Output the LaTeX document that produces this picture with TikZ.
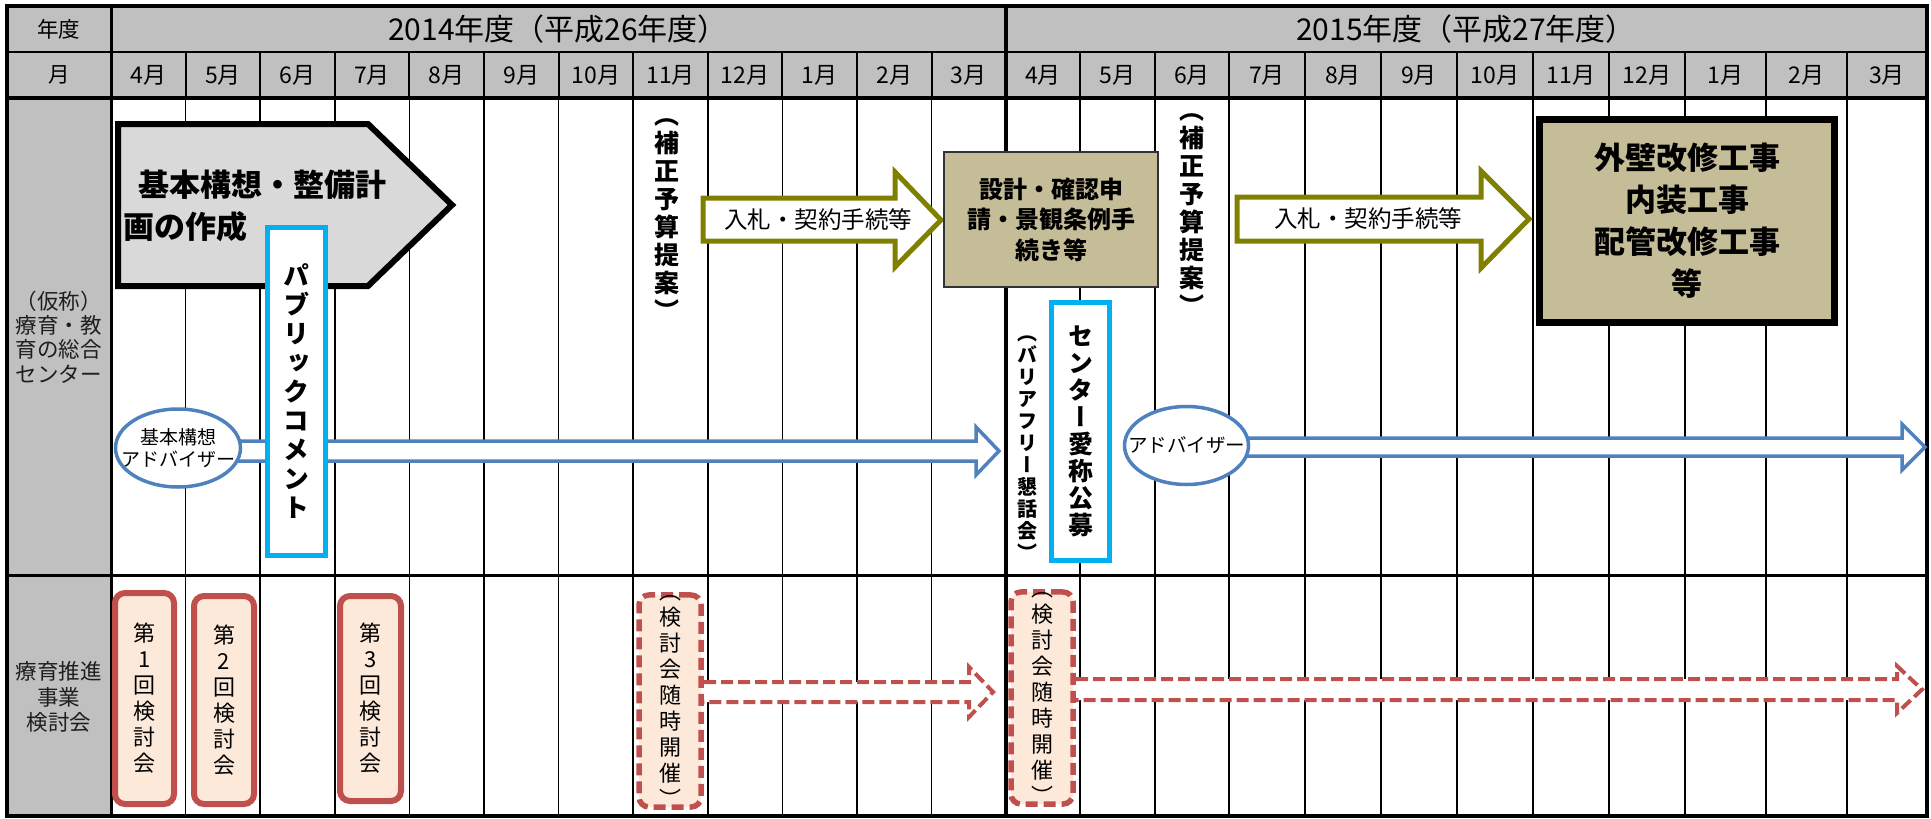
\documentclass[tikz,border=0pt]{standalone}
\usepackage{fontspec}
\setmainfont{Noto Sans CJK JP}
\usetikzlibrary{shapes.geometric}
\definecolor{hdrgray}{HTML}{C0C0C0}
\definecolor{pentgray}{HTML}{D9D9D9}
\definecolor{ablue}{HTML}{4F81BD}
\definecolor{cyanb}{HTML}{00B0F0}
\definecolor{olivec}{HTML}{808000}
\definecolor{redb}{HTML}{C0504D}
\definecolor{peach}{HTML}{FDE9D9}
\definecolor{khaki}{HTML}{C4BD97}
\definecolor{darkline}{HTML}{333333}
\definecolor{lblgray}{HTML}{1E1E1E}
\newcommand{\fs}[2]{\fontsize{#1}{#2}\selectfont}
\newcommand{\vertf}{\addfontfeature{RawFeature=+vert}}
\begin{document}
\begin{tikzpicture}[x=1pt,y=-1pt,
  every node/.style={inner sep=0pt},
  monthlbl/.style={font=\fs{23}{26}},
  yearlbl/.style={font=\fs{30}{32}},
  sidelbl/.style={font=\fs{21.5}{24.3}, align=center, text=lblgray},
  vbold/.style={font=\fs{25}{28}\bfseries\vertf, align=center},
  cyanbox/.style={draw=cyanb, line width=5, fill=white, align=center},
  meetbox/.style={draw=redb, line width=6, fill=peach, rounded corners=10, align=center, font=\fs{22}{26}\vertf},
  dashbox/.style={draw=redb, line width=5.5, dash pattern=on 12pt off 6pt, fill=peach, rounded corners=10, align=center, font=\fs{22}{26}\vertf},
  bluearrow/.style={draw=ablue, line width=3.5, fill=white, line join=miter},
  redarrow/.style={draw=redb, line width=4, dash pattern=on 12pt off 5pt, fill=white},
  olivearrow/.style={draw=olivec, line width=5, fill=white, line join=miter},
  advell/.style={ellipse, draw=ablue, line width=3.5, fill=white},
  khakibox/.style={fill=khaki, align=center}
]
\useasboundingbox (0,0) rectangle (1931,819);
% backgrounds
\fill[hdrgray] (7,6) rectangle (1927,98);
\fill[hdrgray] (7,98) rectangle (111,816);
% month grid lines
\foreach \x in {185.6,260.2,334.8,409.4,484,558.6,633.2,707.8,782.4,857,931.6,1080,1155,1229,1305,1381,1457,1533,1609,1685,1766,1847}{
  \draw[line width=2] (\x,52) -- (\x,98);
  \draw[line width=1.5] (\x,98) -- (\x,816);
}
\draw[line width=2.5] (7,52) -- (1927,52);
\draw[line width=4] (7,98) -- (1927,98);
\draw[line width=3] (7,575) -- (1927,575);
\draw[line width=3] (111,6) -- (111,816);
\draw[line width=4] (1006,6) -- (1006,816);
\draw[line width=4] (7,6) rectangle (1927,816);
% header texts
\node[font=\fs{21.5}{24}] (hyear) at (59,29) {年度};
\node[font=\fs{21.5}{24}] (hmonth) at (59,75) {月};
\node[yearlbl] (y14) at (558,29) {2014年度（平成26年度）};
\node[yearlbl] (y15) at (1466,29) {2015年度（平成27年度）};
\foreach \x/\m [count=\i] in {148.3/4,222.9/5,297.5/6,372.1/7,446.7/8,521.3/9,595.9/10,670.5/11,745.1/12,819.7/1,894.3/2,968.8/3}
  \node[monthlbl] (ma\i) at (\x,75) {\m 月};
\foreach \x/\m [count=\i] in {1043/4,1117.5/5,1192/6,1267/7,1343/8,1419/9,1495/10,1571/11,1647/12,1725.5/1,1806.5/2,1887/3}
  \node[monthlbl] (mb\i) at (\x,75) {\m 月};
% row labels
\node[sidelbl] (row1) at (59,337) {（仮称）\\療育・教\\育の総合\\センター};
\node[sidelbl, font=\fs{21.5}{25.5}] (row2) at (59,697) {療育推進\\事業\\検討会};
% basic plan pentagon
\draw[line width=6, fill=pentgray, line join=miter] (118,124) -- (368,124) -- (452,205) -- (368,286) -- (118,286) -- cycle;
\node[font=\fs{31}{42}\bfseries, align=left, anchor=west] (plan) at (123,206) {\hspace*{15pt}基本構想・整備計\\画の作成};
% blue arrow 1
\draw[bluearrow] (178,441) -- (976,441) -- (976,427) -- (999,451) -- (976,475) -- (976,461) -- (178,461) -- cycle;
\node[advell, minimum width=125, minimum height=78] (adv1) at (178,448) {};
\node[font=\fs{19}{22}, align=center] (adv1t) at (adv1.center) {基本構想\\アドバイザー};
% public comment
\node[cyanbox, minimum width=58, minimum height=328, font=\fs{26}{29}\bfseries\vertf] (pub) at (296.5,391.5) {パ\\ブ\\リ\\ッ\\ク\\コ\\メ\\ン\\ト};
% hosei 1
\node[vbold] (hosei1) at (667,220) {（\\補\\正\\予\\算\\提\\案\\）};
% olive arrow 1
\draw[olivearrow] (703,198) -- (895,198) -- (895,172) -- (941,220) -- (895,267) -- (895,241) -- (703,241) -- cycle;
\node[font=\fs{23.5}{26}] (bid1) at (818,220) {入札・契約手続等};
% design box
\node[khakibox, draw=darkline, line width=2.5, minimum width=214, minimum height=135, font=\fs{24}{30.5}\bfseries] (design) at (1051,219.5) {設計・確認申\\請・景観条例手\\続き等};
% barrier free
\node[font=\fs{20}{22}\bfseries\vertf, align=center] (bfree) at (1027,448) {（\\バ\\リ\\ア\\フ\\リ\\ー\\懇\\話\\会\\）};
% center name
\node[cyanbox, minimum width=58, minimum height=258, font=\fs{25}{27}\bfseries\vertf] (cname) at (1080.5,431.5) {セ\\ン\\タ\\ー\\愛\\称\\公\\募};
% hosei 2
\node[vbold] (hosei2) at (1192,215) {（\\補\\正\\予\\算\\提\\案\\）};
% blue arrow 2
\draw[bluearrow] (1186,438) -- (1902,438) -- (1902,424) -- (1925,447) -- (1902,470) -- (1902,456) -- (1186,456) -- cycle;
\node[advell, minimum width=124, minimum height=78] (adv2) at (1186.5,445.5) {};
\node[font=\fs{19.5}{22}] (adv2t) at (adv2.center) {アドバイザー};
% olive arrow 2
\draw[olivearrow] (1237,197) -- (1481,197) -- (1481,171) -- (1529,219) -- (1481,268) -- (1481,241) -- (1237,241) -- cycle;
\node[font=\fs{23.5}{26}] (bid2) at (1368,219) {入札・契約手続等};
% works box
\node[khakibox, draw=black, line width=7, minimum width=295, minimum height=203, font=\fs{31}{42}\bfseries] (works) at (1687,221) {外壁改修工事\\内装工事\\配管改修工事\\等};
% meetings
\node[meetbox, minimum width=59, minimum height=211] (meet1) at (144.5,698.5) {第\\1\\回\\検\\討\\会};
\node[meetbox, minimum width=60, minimum height=208] (meet2) at (224,700) {第\\2\\回\\検\\討\\会};
\node[meetbox, minimum width=61, minimum height=205] (meet3) at (370.5,698.5) {第\\3\\回\\検\\討\\会};
% red dashed arrows
\draw[redarrow] (670,682) -- (969,682) -- (969,667) -- (993,692) -- (969,717) -- (969,702) -- (670,702) -- cycle;
\draw[redarrow] (1042,679) -- (1897,679) -- (1897,666) -- (1922,689.5) -- (1897,713) -- (1897,700) -- (1042,700) -- cycle;
\node[dashbox, minimum width=62, minimum height=206] (adhoc1) at (670,701) {（\\検\\討\\会\\随\\時\\開\\催\\）};
\node[dashbox, minimum width=62, minimum height=202] (adhoc2) at (1042,698) {（\\検\\討\\会\\随\\時\\開\\催\\）};
\end{tikzpicture}
\end{document}
